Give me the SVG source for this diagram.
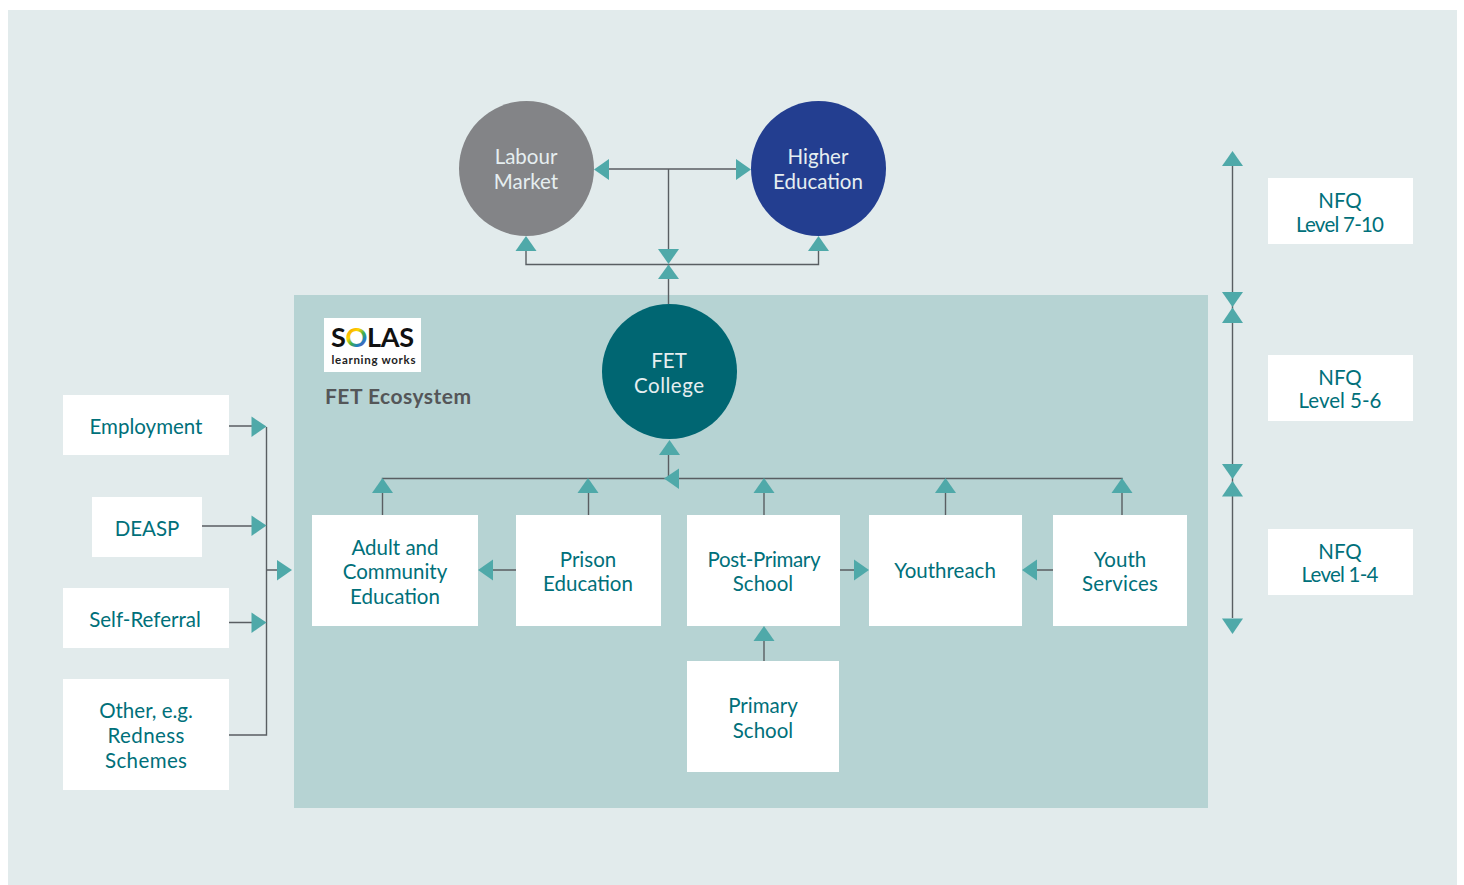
<svg xmlns="http://www.w3.org/2000/svg" width="1464" height="885" viewBox="0 0 1464 885">
<style>
text{font-family:"Lato","Open Sans","Liberation Sans",sans-serif;font-size:20.5px;text-anchor:middle}
.t{fill:#00707a}
.w{fill:#e6eef0}
.b{fill:#fff}
.l{fill:none;stroke:#595e62;stroke-width:1.4}
.a{fill:#4fa9a9}
</style>
<defs>
<linearGradient id="ring" gradientUnits="userSpaceOnUse" x1="347" y1="328" x2="366" y2="350">
<stop offset="0" stop-color="#f39200"/><stop offset=".3" stop-color="#ffd500"/><stop offset=".5" stop-color="#3fae49"/><stop offset=".7" stop-color="#1f7fc4"/><stop offset="1" stop-color="#d6127f"/>
</linearGradient>
</defs>
<rect x="8" y="10" width="1449" height="875" fill="#e2ebec"/>
<rect x="294" y="295" width="914" height="513" fill="#b6d3d3"/>

<g id="connectors">
<path class="l" d="M609 169H736M668.500 169V249M526 250V264.500H818.500V250M668.500 264.500V304"/>
<path class="l" d="M668.500 455V478M382.500 492V478.500H1122V492M588.500 492V515M764 492V515M945.500 492V515M1122 492V515M382.500 492V515"/>
<path class="l" d="M229 426H252M202 526H252M229 622.500H252M229 735H266.500V427M267 570H278"/>
<path class="l" d="M516 570H493M840 570H855M1053 570H1037M764 641V661"/>
<path class="l" d="M1232.500 166V618"/>
<g class="a">
<polygon points="594,169.500 609,159 609,180"/>
<polygon points="751,169.500 736,159 736,180"/>
<polygon points="668.500,264 658,249 679,249"/>
<polygon points="668.500,264.500 658,279 679,279"/>
<polygon points="526,236 515.500,251 536.500,251"/>
<polygon points="818.500,236 808,251 829,251"/>
<polygon points="669.500,440 659,455 680,455"/>
<polygon points="664,478.500 679,468.500 679,489"/>
<polygon points="382.500,478 372,493 393,493"/>
<polygon points="588,478 577.500,493 598.500,493"/>
<polygon points="764,478 753.500,493 774.500,493"/>
<polygon points="945.500,478 935,493 956,493"/>
<polygon points="1122,478 1111.500,493 1132.500,493"/>
<polygon points="266.500,426.500 251.500,416.500 251.500,437"/>
<polygon points="266.500,525.500 251.500,515.500 251.500,536"/>
<polygon points="266.500,622.500 251.500,612.500 251.500,633"/>
<polygon points="292,570 277,560 277,580.500"/>
<polygon points="478,570 493,559.500 493,580.500"/>
<polygon points="869,570 854,559.500 854,580.500"/>
<polygon points="1022,570 1037,559.500 1037,580.500"/>
<polygon points="764,626 753.500,641 774.500,641"/>
<polygon points="1232.500,151 1222,166 1243,166"/>
<polygon points="1232.500,307 1222,292 1243,292"/>
<polygon points="1232.500,307.500 1222,323 1243,323"/>
<polygon points="1232.500,479 1222,464 1243,464"/>
<polygon points="1232.500,481 1222,496.500 1243,496.500"/>
<polygon points="1232.500,634 1222,618.500 1243,618.500"/>
</g>
</g>

<g id="labour-market"><circle cx="526.500" cy="168.500" r="67.500" fill="#838487"/><text class="w" x="526" y="164">Labour</text><text class="w" x="526" y="189">Market</text></g>
<g id="higher-education"><circle cx="818.500" cy="168.500" r="67.500" fill="#233e90"/><text class="w" x="818" y="164">Higher</text><text class="w" x="818" y="189">Education</text></g>
<g id="fet-college"><circle cx="669.500" cy="371.500" r="67.500" fill="#006672"/><text class="w" x="669" y="368">FET</text><text class="w" x="669" y="393" textLength="70">College</text></g>

<g id="solas-logo"><rect x="324" y="318" width="97" height="54" class="b"/>
<text x="372.500" y="347" style="font-size:27px;font-weight:700" fill="#111" textLength="83" lengthAdjust="spacing">S<tspan fill="url(#ring)">O</tspan>LAS</text>
<text x="373.500" y="364" style="font-size:11.500px;font-weight:700" fill="#222" textLength="84" lengthAdjust="spacing">learning works</text></g>
<g id="fet-ecosystem"><text x="398" y="404" style="font-size:21px;font-weight:700" fill="#545658" textLength="146" lengthAdjust="spacing">FET Ecosystem</text></g>

<g id="employment"><rect x="63" y="395" width="166" height="60" class="b"/><text class="t" x="146" y="434">Employment</text></g>
<g id="deasp"><rect x="92" y="497" width="110" height="60" class="b"/><text class="t" x="147" y="536">DEASP</text></g>
<g id="self-referral"><rect x="63" y="588" width="166" height="60" class="b"/><text class="t" x="145" y="627">Self-Referral</text></g>
<g id="other"><rect x="63" y="679" width="166" height="111" class="b"/><text class="t" x="146" y="718">Other, e.g.</text><text class="t" x="146" y="743" textLength="77">Redness</text><text class="t" x="146" y="768" textLength="82">Schemes</text></g>

<g id="adult"><rect x="312" y="515" width="166" height="111" class="b"/><text class="t" x="395" y="555">Adult and</text><text class="t" x="395" y="579">Community</text><text class="t" x="395" y="604">Education</text></g>
<g id="prison"><rect x="516" y="515" width="145" height="111" class="b"/><text class="t" x="588" y="567">Prison</text><text class="t" x="588" y="591">Education</text></g>
<g id="post-primary"><rect x="687" y="515" width="153" height="111" class="b"/><text class="t" x="764" y="567" textLength="113">Post-Primary</text><text class="t" x="763" y="591">School</text></g>
<g id="youthreach"><rect x="869" y="515" width="153" height="111" class="b"/><text class="t" x="945" y="578">Youthreach</text></g>
<g id="youth-services"><rect x="1053" y="515" width="134" height="111" class="b"/><text class="t" x="1120" y="567">Youth</text><text class="t" x="1120" y="591" textLength="76">Services</text></g>
<g id="primary"><rect x="687" y="661" width="152" height="111" class="b"/><text class="t" x="763" y="713">Primary</text><text class="t" x="763" y="738">School</text></g>

<g id="nfq-7-10"><rect x="1268" y="178" width="145" height="66" class="b"/><text class="t" x="1340" y="208">NFQ</text><text class="t" x="1340" y="232" textLength="88">Level 7-10</text></g>
<g id="nfq-5-6"><rect x="1268" y="355" width="145" height="66" class="b"/><text class="t" x="1340" y="385">NFQ</text><text class="t" x="1340" y="408">Level 5-6</text></g>
<g id="nfq-1-4"><rect x="1268" y="529" width="145" height="66" class="b"/><text class="t" x="1340" y="559">NFQ</text><text class="t" x="1340" y="582" textLength="77">Level 1-4</text></g>
</svg>
